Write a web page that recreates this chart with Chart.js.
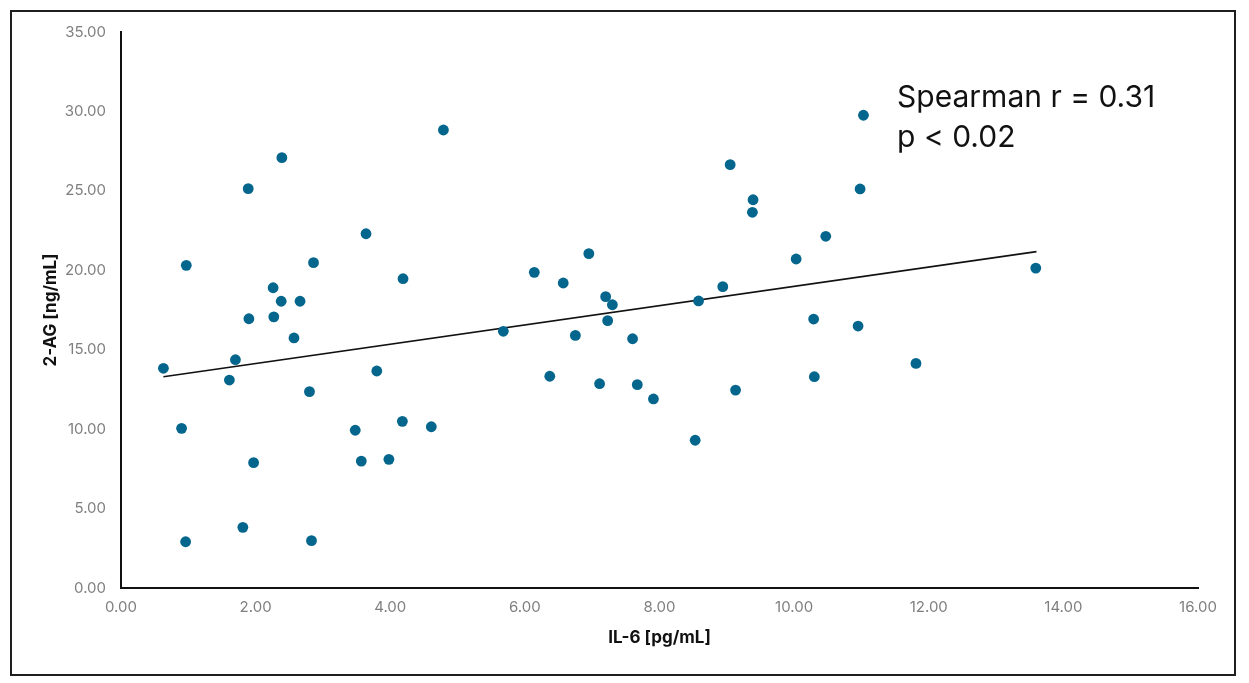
<!DOCTYPE html>
<html>
<head>
<meta charset="utf-8">
<script src="https://cdn.jsdelivr.net/npm/chart.js@4.4.0/dist/chart.umd.min.js"></script>
<style>
  html, body { margin: 0; padding: 0; background: #fff; }
  #wrap { position: relative; width: 1249px; height: 683px; }
  #frame { position: absolute; left: 10px; top: 10px; width: 1222px; height: 662px;
           border: 2px solid #1e1e1e; pointer-events: none; }
</style>
</head>
<body>
<div id="wrap">
  <canvas id="c" width="1249" height="683"></canvas>
  <div id="frame"></div>
</div>
<script>
// IL-6 [pg/mL] values (x)
const il6 = [0.63, 0.90, 0.96, 0.97, 1.61, 1.70, 1.81, 1.89, 1.90, 1.97,
             2.26, 2.27, 2.38, 2.39, 2.57, 2.66, 2.80, 2.83, 2.86, 3.48,
             3.57, 3.64, 3.80, 3.98, 4.18, 4.19, 4.61, 4.79, 5.68, 6.14,
             6.37, 6.57, 6.75, 6.95, 7.11, 7.20, 7.23, 7.30, 7.60, 7.67,
             7.91, 8.53, 8.58, 8.94, 9.05, 9.13, 9.38, 9.39, 10.03, 10.29,
             10.30, 10.47, 10.95, 10.98, 11.03, 11.81, 13.59];
// 2-AG [ng/mL] values (y)
const ag2 = [13.83, 10.05, 2.91, 20.31, 13.09, 14.37, 3.82, 25.14, 16.95, 7.89,
             18.90, 17.07, 18.05, 27.09, 15.74, 18.05, 12.36, 2.98, 20.48, 9.93,
             7.99, 22.30, 13.66, 8.10, 10.49, 19.47, 10.15, 28.83, 16.16, 19.87,
             13.33, 19.20, 15.90, 21.05, 12.86, 18.34, 16.83, 17.83, 15.69, 12.80,
             11.90, 9.30, 18.07, 18.97, 26.65, 12.46, 23.65, 24.44, 20.71, 16.93,
             13.30, 22.14, 16.49, 25.12, 29.76, 14.14, 20.14];
// Linear trendline end points
const trendX = [0.63, 13.60];
const trendY = [13.30, 21.17];
// Axis ranges / ticks
const xTicks = [0, 2, 4, 6, 8, 10, 12, 14, 16];
const yTicks = [0, 5, 10, 15, 20, 25, 30, 35];
// Annotation text
const noteLines = ["Spearman r = 0.31", "p < 0.02"];
const noteAt = [11.53, 30.3];

const pts = il6.map((x, i) => ({x: x, y: ag2[i]}));
const trend = trendX.map((x, i) => ({x: x, y: trendY[i]}));

const noteplugin = {
  id: 'note',
  afterDatasetsDraw(chart) {
    const ctx = chart.ctx;
    const xs = chart.scales.x, ys = chart.scales.y;
    const px = xs.getPixelForValue(noteAt[0]);
    const py = ys.getPixelForValue(noteAt[1]);
    ctx.save();
    ctx.fillStyle = '#111';
    ctx.font = '30px Inter, "Open Sans", sans-serif';
    ctx.textBaseline = 'alphabetic';
    ctx.textAlign = 'left';
    noteLines.forEach((t, i) => ctx.fillText(t, px, py + i * 40.5));
    ctx.restore();
  }
};

const tickFont = {family: 'Inter, "Open Sans", sans-serif', size: 15};
const titleFont = {family: 'Inter, "Open Sans", sans-serif', size: 17, weight: 'bold'};

new Chart(document.getElementById('c'), {
  type: 'scatter',
  data: {
    datasets: [
      {
        label: '2-AG',
        data: pts,
        backgroundColor: '#04668C',
        borderColor: '#04668C',
        borderWidth: 0,
        pointRadius: 5.4,
        pointHoverRadius: 5.4,
        order: 0
      },
      {
        label: 'Trend',
        type: 'line',
        data: trend,
        borderColor: '#111',
        borderWidth: 1.7,
        pointRadius: 0,
        fill: false,
        showLine: true,
        order: 1
      }
    ]
  },
  options: {
    responsive: false,
    animation: false,
    devicePixelRatio: 1,
    layout: { padding: { left: 0, right: 51, top: 32, bottom: 0 } },
    plugins: { legend: { display: false }, tooltip: { enabled: false } },
    scales: {
      x: {
        type: 'linear',
        min: xTicks[0], max: xTicks[xTicks.length - 1],
        afterBuildTicks(s) { s.ticks = xTicks.map(v => ({value: v})); },
        afterFit(s) { s.height = 95; },
        grid: { display: false, drawTicks: false },
        border: { display: true, color: '#111', width: 2 },
        ticks: { color: '#7f7f7f', font: tickFont, padding: 10, maxRotation: 0,
                 callback: v => Number(v).toFixed(2) },
        title: { display: true, text: 'IL-6 [pg/mL]', color: '#111', font: titleFont,
                 padding: { top: 0, bottom: 35 } }
      },
      y: {
        type: 'linear',
        min: yTicks[0], max: yTicks[yTicks.length - 1],
        afterBuildTicks(s) { s.ticks = yTicks.map(v => ({value: v})); },
        afterFit(s) { s.width = 121; },
        grid: { display: false, drawTicks: false },
        border: { display: true, color: '#111', width: 2 },
        ticks: { color: '#7f7f7f', font: tickFont, padding: 15,
                 callback: v => Number(v).toFixed(2) },
        title: { display: true, text: '2-AG [ng/mL]', color: '#111', font: titleFont,
                 padding: { top: 41, bottom: 0 } }
      }
    }
  },
  plugins: [noteplugin]
});
</script>
</body>
</html>
